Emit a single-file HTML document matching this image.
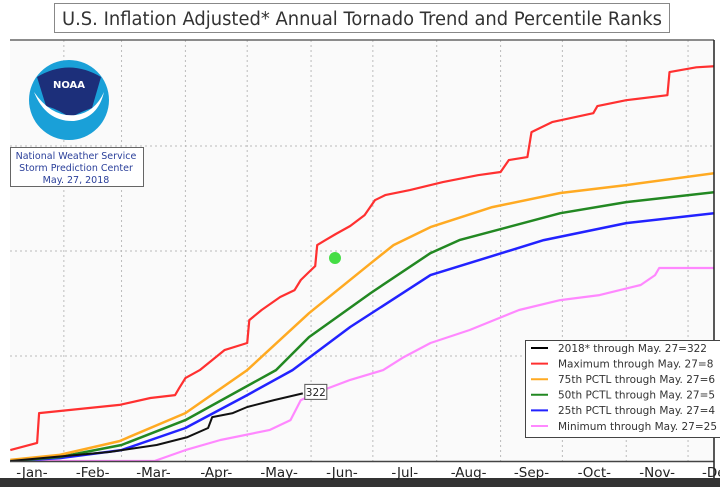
<!DOCTYPE html>
<html><head><meta charset="utf-8">
<style>
html,body{margin:0;padding:0;background:#fff;}
body{width:720px;height:487px;overflow:hidden;position:relative;font-family:"DejaVu Sans","Liberation Sans",sans-serif;}
svg{position:absolute;left:0;top:0;}
</style></head>
<body>
<svg id="chart" width="720" height="487" viewBox="0 0 720 487">
  <rect x="0" y="0" width="720" height="487" fill="#ffffff"/>
  <rect x="0" y="478" width="720" height="9" fill="#333333"/>
  <rect x="10" y="40" width="704" height="421" fill="#fafafa"/>
  <g id="grid"></g>
  <g id="series"></g>
  <line x1="10" y1="40" x2="714" y2="40" stroke="#666" stroke-width="1.5"/>
  <line x1="10" y1="461.5" x2="714" y2="461.5" stroke="#444" stroke-width="1.5"/>
  <line x1="714" y1="40" x2="714" y2="478" stroke="#222" stroke-width="1.5"/>
  <g id="xlabels"></g>

  <rect x="54.5" y="3.5" width="615" height="29" fill="#fff" stroke="#888" stroke-width="1"/>
  <text x="62" y="25" font-size="18.5" fill="#333" textLength="600" lengthAdjust="spacingAndGlyphs">U.S. Inflation Adjusted* Annual Tornado Trend and Percentile Ranks</text>

  <g>
    <circle cx="69" cy="100" r="40" fill="#1aa0d8"/>
    <path d="M37 77 Q69 58 101 77 L92 108 Q80 112 70 118 Q60 110 46 106 Z" fill="#1c2f7a"/>
    <path d="M34 92 Q52 118 76 115 Q95 112 104 92 Q98 118 74 121 Q46 122 34 92 Z" fill="#ffffff"/>
    <text x="69" y="88" font-size="10" font-weight="bold" fill="#fff" text-anchor="middle">NOAA</text>
  </g>
  <rect x="10.5" y="147.5" width="133" height="39" fill="#fff" stroke="#666"/>
  <text x="76" y="159" font-size="9.5" fill="#2a3f9a" text-anchor="middle">National Weather Service</text>
  <text x="76" y="171" font-size="9.5" fill="#2a3f9a" text-anchor="middle">Storm Prediction Center</text>
  <text x="76" y="183" font-size="9.5" fill="#2a3f9a" text-anchor="middle">May. 27, 2018</text>

  <circle cx="335" cy="258" r="6" fill="#44dd44"/>

  <g id="legend">
    <rect x="525.5" y="340.5" width="200" height="97" fill="#fff" stroke="#444" stroke-width="1"/>
  </g>
</svg>
<script>
const months = ["-Jan-","-Feb-","-Mar-","-Apr-","-May-","-Jun-","-Jul-","-Aug-","-Sep-","-Oct-","-Nov-","-Dec-"];
const monthStarts = [0,31,59,90,120,151,181,212,243,273,304,334,365];
const yTicks = [500,1000,1500];
const redDays = [5,18,19,58,73,85,87,90,97,109,120,121,127,136,143,146,150,153,154,158,163,170,177,182,187,199,215,232,243,247,256,258,268,288,290,304,324,325,338,347];
const redVals = [52,86,228,267,300,314,347,395,433,528,562,671,719,781,814,862,900,928,1028,1052,1081,1119,1171,1242,1266,1290,1328,1361,1376,1433,1447,1566,1614,1656,1690,1718,1742,1852,1875,1880];
const orangeDays = [5,29,58,90,120,150,180,191,209,239,272,304,347];
const orangeVals = [5,29,95,228,433,704,942,1028,1114,1209,1276,1314,1371];
const greenDays = [5,29,59,90,134,150,180,209,223,272,304,347];
const greenVals = [0,19,76,195,433,590,800,990,1052,1180,1233,1280];
const blueDays = [5,29,59,90,120,142,170,209,264,304,347];
const blueVals = [0,14,52,157,314,433,638,885,1052,1133,1180];
const pinkDays = [5,75,90,107,131,141,146,157,170,186,196,209,228,252,272,291,311,318,320,347];
const pinkVals = [0,0,52,100,148,195,290,338,386,433,495,562,624,719,766,790,838,885,919,919];
const blackDays = [5,53,76,91,101,103,113,120,133,147];
const blackVals = [0,43,76,114,157,209,228,257,290,322];
const legendLabels = ["2018* through May. 27=322","Maximum through May. 27=8","75th PCTL through May. 27=6","50th PCTL through May. 27=5","25th PCTL through May. 27=4","Minimum through May. 27=25"];
const legendColors = ["#000000","#ff3030","#ffaa22","#228822","#2222ff","#ff88ff"];

const NS = "http://www.w3.org/2000/svg";
function xs(d){ return d * 2.06; }
function ys(v){ return 461 - v * 0.21; }
function mk(tag, attrs, parent){ const e = document.createElementNS(NS, tag); for (const k in attrs) e.setAttribute(k, attrs[k]); parent.appendChild(e); return e; }

const grid = document.getElementById('grid');
for (let i = 1; i < 12; i++) {
  const x = xs(monthStarts[i]);
  const l = mk('line', {x1:x, y1:40, x2:x, y2:461, stroke:'#bbb', 'stroke-width':1, 'stroke-dasharray':'2,3'}, grid);
  
  
}
yTicks.forEach(v => {
  const y = ys(v);
  const l = mk('line', {x1:10, y1:y, x2:714, y2:y, stroke:'#bbb', 'stroke-width':1, 'stroke-dasharray':'2,3'}, grid);
  
  
});

const xl = document.getElementById('xlabels');
months.forEach((m, i) => {
  const cx = xs((monthStarts[i] + monthStarts[i+1]) / 2);
  const t = mk('text', {x:cx, y:477, 'font-size':13.5, fill:'#222', 'text-anchor':'middle'}, xl);
  t.textContent = m;
  
  
});

const sg = document.getElementById('series');
const clip = mk('clipPath', {id:'pc'}, mk('defs', {}, sg));
mk('rect', {x:10, y:40, width:704, height:421}, clip);
function drawLine(days, vals, color, name, w) {
  const pts = days.map((d, i) => xs(d).toFixed(1) + ',' + ys(vals[i]).toFixed(1)).join(' ');
  const p = mk('polyline', {points:pts, fill:'none', stroke:color, 'stroke-width':w, 'stroke-linejoin':'round', 'clip-path':'url(#pc)'}, sg);
  
  
}
drawLine(pinkDays, pinkVals, '#ff88ff', 'minimum-line', 2.2);
drawLine(blueDays, blueVals, '#2222ff', 'pctl25-line', 2.5);
drawLine(greenDays, greenVals, '#228822', 'pctl50-line', 2.5);
drawLine(orangeDays, orangeVals, '#ffaa22', 'pctl75-line', 2.5);
drawLine(redDays, redVals, '#ff3030', 'maximum-line', 2.2);
drawLine(blackDays, blackVals, '#111111', 'current-year-line', 2);

const ld = blackDays.length - 1;
const bx = xs(blackDays[ld]) + 2, by = ys(blackVals[ld]) - 9;
const box = mk('rect', {x:bx, y:by, width:22, height:15, fill:'#fff', stroke:'#555'}, sg);


const bt = mk('text', {x:bx + 11, y:by + 11.5, 'font-size':10.5, fill:'#222', 'text-anchor':'middle'}, sg);
bt.textContent = String(blackVals[ld]);



const lg = document.getElementById('legend');
legendLabels.forEach((lab, i) => {
  const y = 348 + i * 15.6;
  const ln = mk('line', {x1:531, y1:y, x2:548, y2:y, stroke:legendColors[i], 'stroke-width':2}, lg);
  
  
  const t = mk('text', {x:558, y:y + 3.8, 'font-size':10.5, fill:'#333'}, lg);
  t.textContent = lab;
  
  
});
</script>
</body></html>
